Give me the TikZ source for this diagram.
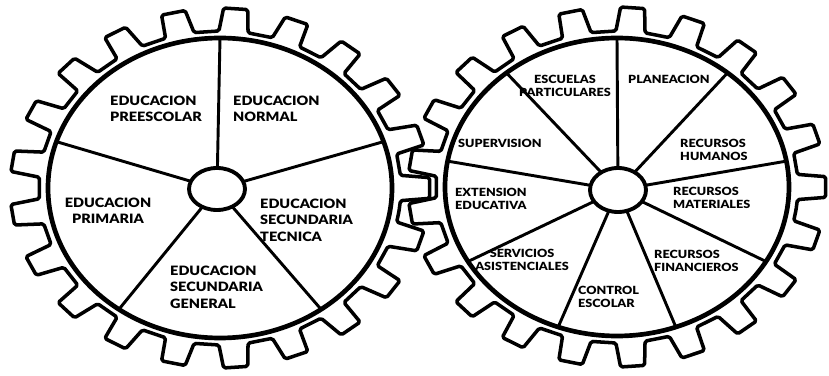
\documentclass[tikz,border=0pt]{standalone}
\usepackage{fontspec}
\newfontfamily\gf{Lato Black}[FakeStretch=1.12]
\tikzset{
  rim/.style={line width=4pt},
  teeth/.style={line width=3pt, rounded corners=1.5pt, line join=round},
  spoke/.style={line width=2.5pt},
  hub/.style={line width=3.3pt, fill=white},
  lbl/.style={inner sep=0pt, font=\gf\fontsize{11}{14}\selectfont, align=left, anchor=north west},
  lblc/.style={lbl, align=center, anchor=north},
  lblR/.style={lbl, font=\gf\fontsize{9.6}{10.8}\selectfont},
  lblRc/.style={lblR, align=center, anchor=north},
}
% #1 cx, #2 cy, #3 root rx, #4 root ry, #5 tip rx, #6 tip ry
\newcommand\gearoutline[6]{%
  \draw[teeth] ({#1+#3*cos(-8.5714)},{#2-#4*sin(-8.5714)})
   \foreach \k in {0,...,20}{
    -- ({#1+#3*cos(\k*17.1429-4.63)},{#2-#4*sin(\k*17.1429-4.63)})
    -- ({#1+#5*cos(\k*17.1429-3.3)},{#2-#6*sin(\k*17.1429-3.3)})
    -- ({#1+#5*cos(\k*17.1429+3.3)},{#2-#6*sin(\k*17.1429+3.3)})
    -- ({#1+#3*cos(\k*17.1429+4.63)},{#2-#4*sin(\k*17.1429+4.63)})
   } -- cycle;}
\begin{document}
\begin{tikzpicture}[x=0.03cm, y=-0.03cm]
\useasboundingbox[fill=white] (0,0) rectangle (829,376);

% ---------- left gear ----------
\coordinate (Lc) at (217,189);
\gearoutline{220}{188}{181}{157}{210}{180}
\draw[rim] (220,188) ellipse [x radius=172, y radius=150];
\foreach \a in {90,18,-54,-126,162}
  \draw[spoke] (Lc) -- ({220+172*cos(\a)},{188-150*sin(\a)});
\draw[hub] (Lc) ellipse [x radius=28, y radius=21];

\node[lbl]  (pre) at (110,95.5)  {EDUCACION\\PREESCOLAR};
\node[lbl]  (nor) at (233,95.5)  {EDUCACION\\NORMAL};
\node[lblc] (pri) at (108,197.5) {EDUCACION\\PRIMARIA};
\node[lbl]  (tec) at (260,198.5) {EDUCACION\\SECUNDARIA\\TECNICA};
\node[lbl]  (gen) at (170,265.5) {EDUCACION\\SECUNDARIA\\GENERAL};

% ---------- right gear ----------
\coordinate (Rc) at (618,190);
\gearoutline{617}{187}{181}{156}{209}{180}
\draw[rim] (617,187) ellipse [x radius=172, y radius=149];
\foreach \a in {90,50,10,-30,-70,-110,-150,170,130}
  \draw[spoke] (Rc) -- ({617+172*cos(\a)},{187-149*sin(\a)});
\draw[hub] (Rc) ellipse [x radius=28, y radius=22];

\node[lblRc] (esc) at (565,75)  {ESCUELAS\\PARTICULARES};
\node[lblR]  (pla) at (628,75)  {PLANEACION};
\node[lblR]  (hum) at (680,139) {RECURSOS\\HUMANOS};
\node[lblR]  (mat) at (673,187) {RECURSOS\\MATERIALES};
\node[lblR]  (fin) at (654,250) {RECURSOS\\FINANCIEROS};
\node[lblR]  (con) at (578,286) {CONTROL\\ESCOLAR};
\node[lblRc] (ser) at (522,249) {SERVICIOS\\ASISTENCIALES};
\node[lblR]  (ext) at (455,188) {EXTENSION\\EDUCATIVA};
\node[lblR]  (sup) at (458,139) {SUPERVISION};
\end{tikzpicture}
\end{document}
